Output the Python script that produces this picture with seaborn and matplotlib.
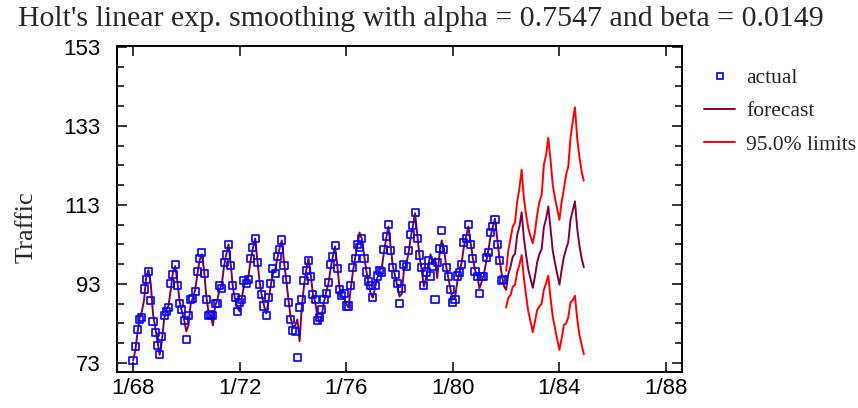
import numpy as np
import pandas as pd
import matplotlib
matplotlib.use("Agg")
import matplotlib.pyplot as plt
from matplotlib.lines import Line2D
import seaborn as sns

# monthly observations, 1/68 .. 12/81 (one row per year)
actual = [
    73.6, 77.1, 81.4, 84.1, 84.6, 91.7, 94.0, 96.1, 88.8, 83.4, 80.6, 77.5,
    75.2, 79.6, 85.0, 86.0, 87.0, 93.0, 95.3, 98.0, 92.5, 88.0, 86.5, 83.7,
    79.0, 85.0, 89.0, 89.3, 91.0, 96.1, 99.5, 101.0, 95.7, 89.0, 85.0, 85.3,
    85.0, 88.0, 88.0, 92.5, 91.9, 98.4, 100.3, 103.0, 97.6, 92.5, 89.5, 86.0,
    88.3, 89.1, 93.8, 93.0, 94.2, 99.5, 102.2, 104.6, 98.4, 92.9, 90.2, 87.4,
    84.9, 89.5, 93.0, 96.8, 95.7, 99.9, 101.8, 104.1, 97.6, 94.2, 88.3, 84.1,
    81.3, 81.0, 74.3, 87.1, 89.1, 93.8, 96.5, 99.0, 94.8, 90.2, 89.0, 83.8,
    84.5, 86.5, 89.0, 90.5, 93.3, 98.0, 99.9, 102.6, 96.8, 91.5, 90.0, 90.5,
    87.4, 87.4, 92.5, 97.1, 99.5, 103.0, 102.2, 104.5, 99.5, 96.0, 93.5, 92.5,
    89.5, 92.5, 95.0, 96.5, 96.0, 101.8, 105.0, 108.0, 101.4, 97.1, 95.3, 93.0,
    88.0, 91.9, 98.0, 97.5, 101.4, 105.4, 107.7, 111.0, 104.6, 100.3, 97.1, 92.5,
    96.0, 99.0, 95.0, 97.5, 89.1, 98.3, 102.0, 106.5, 101.8, 97.1, 94.8, 91.5,
    88.3, 89.0, 95.0, 95.8, 98.0, 103.5, 104.6, 108.1, 103.0, 99.5, 96.1, 94.8,
    90.6, 94.8, 94.8, 99.7, 101.0, 106.1, 107.5, 109.2, 103.0, 99.0, 93.9, 94.2,
]

# one-step-ahead fitted values over the same months
fitted = [
    73.6, 76.0, 80.5, 84.5, 86.0, 89.0, 95.0, 96.5, 93.0, 85.5, 82.0, 78.5,
    75.0, 78.5, 84.0, 86.5, 87.5, 91.5, 96.0, 97.5, 93.5, 88.5, 86.0, 84.0,
    81.0, 82.5, 88.0, 89.5, 91.5, 95.5, 99.0, 100.5, 96.5, 90.0, 86.0, 85.0,
    82.5, 87.5, 89.0, 91.5, 93.0, 97.5, 100.5, 103.0, 98.0, 92.0, 89.0, 87.0,
    86.0, 89.5, 92.5, 94.0, 95.0, 99.0, 102.0, 104.5, 99.0, 93.5, 90.0, 87.5,
    85.5, 88.5, 92.5, 95.5, 96.5, 99.5, 102.0, 104.0, 98.5, 94.0, 89.0, 84.5,
    82.0, 82.5, 84.0, 78.5, 87.0, 92.5, 96.5, 99.5, 95.5, 90.5, 88.5, 85.0,
    83.0, 85.0, 88.5, 91.0, 93.0, 97.0, 100.0, 102.5, 97.5, 92.0, 90.0, 89.5,
    88.0, 87.0, 91.5, 96.0, 99.5, 102.5, 106.0, 104.5, 100.5, 96.5, 93.5, 90.5,
    89.5, 92.0, 94.5, 96.5, 97.0, 101.0, 104.5, 107.5, 102.5, 97.5, 95.0, 92.5,
    89.8, 90.5, 96.5, 98.0, 100.5, 104.5, 107.5, 110.9, 105.5, 100.0, 96.5, 92.3,
    94.5, 98.0, 100.5, 98.0, 99.5, 94.5, 100.5, 104.0, 102.0, 97.5, 94.5, 91.5,
    89.0, 89.5, 93.5, 96.0, 98.5, 102.5, 105.0, 107.5, 103.5, 99.5, 96.5, 95.0,
    91.9, 93.5, 95.5, 98.5, 101.5, 105.0, 107.5, 109.5, 104.5, 99.5, 95.5, 92.5,
]

# forecasts 1/82 .. 12/84 and 95% limits
forecast = [
    91.5, 95.5, 97.4, 99.9, 100.6, 105.4, 107.5, 111.1, 104.6, 100.3, 96.6, 94.3,
    92.0, 94.9, 98.5, 100.6, 101.8, 107.3, 109.5, 112.6, 106.9, 101.4, 98.3, 95.5,
    92.8, 96.5, 99.8, 101.8, 103.6, 109.2, 111.5, 113.9, 107.1, 102.7, 99.5, 97.2,
]
upper = [
    96.3, 101.5, 104.5, 107.5, 108.5, 113.8, 117.2, 121.9, 114.7, 110.5, 107.1, 105.0,
    103.3, 106.2, 110.5, 113.8, 115.5, 123.1, 125.7, 130.0, 124.4, 118.1, 114.7, 112.0,
    109.2, 113.8, 117.0, 120.6, 122.7, 130.0, 134.1, 137.7, 129.9, 125.2, 121.4, 119.1,
]
lower = [
    87.0, 89.5, 90.2, 92.3, 92.7, 96.0, 97.8, 100.3, 94.5, 90.0, 86.0, 83.5,
    80.8, 83.5, 86.4, 87.3, 88.0, 91.5, 93.2, 95.1, 89.4, 84.7, 81.8, 79.0,
    76.3, 79.2, 82.6, 83.0, 84.5, 88.4, 88.8, 90.0, 84.3, 80.1, 77.6, 75.2,
]

tick_years = [1968, 1972, 1976, 1980, 1984, 1988]
tick_labels = ["1/68", "1/72", "1/76", "1/80", "1/84", "1/88"]
y_ticks = [73, 93, 113, 133, 153]

# decimal-year time axis
t_obs = 1968 + np.arange(len(actual)) / 12
t_fc = 1968 + (len(actual) + np.arange(len(forecast))) / 12

obs = pd.DataFrame({"date": t_obs, "Traffic": actual})
fit = pd.DataFrame({"date": np.concatenate([t_obs, t_fc]),
                    "Traffic": fitted + forecast})
lim = pd.DataFrame({"date": t_fc, "upper": upper, "lower": lower})

sns.set_style("ticks")
plt.rcParams["font.family"] = ["Liberation Serif", "DejaVu Serif"]

purple = "#800040"
red = "#FF0000"
blue = "#0000FF"

fig = plt.figure(figsize=(8.58, 4.08), dpi=100)
ax = fig.add_axes([117 / 858, 1 - 372 / 408, (682 - 117) / 858, (372 - 46) / 408])

sns.lineplot(data=fit, x="date", y="Traffic", color=purple, lw=1.4, ax=ax, zorder=2)
sns.lineplot(data=lim, x="date", y="upper", color=red, lw=1.4, ax=ax, zorder=2)
sns.lineplot(data=lim, x="date", y="lower", color=red, lw=1.4, ax=ax, zorder=2)
sns.scatterplot(data=obs, x="date", y="Traffic", marker="s", s=26,
                facecolor="none", edgecolor=blue, linewidth=1.2, ax=ax, zorder=3)

ax.set_xlim(1967.4, 1988.6)
ax.set_ylim(70.7, 153.2)
ax.set_xticks(tick_years)
ax.set_xticklabels(tick_labels)
ax.set_yticks(y_ticks)
ax.set_yticks(np.arange(73, 154, 5), minor=True)
ax.tick_params(which="both", direction="in", top=True, right=True,
               width=1.1, colors="black", labelsize=16)
ax.tick_params(which="major", length=7)
ax.tick_params(which="minor", length=5)
for lab in ax.get_xticklabels() + ax.get_yticklabels():
    lab.set_family("Liberation Sans")
ax.tick_params(axis="x", pad=4)
ax.tick_params(axis="y", pad=12)
for sp in ax.spines.values():
    sp.set_visible(True)
    sp.set_linewidth(1.4)
    sp.set_color("black")
ax.set_xlabel("")
ax.set_ylabel("")

fig.text(421 / 858, 1 - 19 / 408, "Holt's linear exp. smoothing with alpha = 0.7547 and beta = 0.0149",
         ha="center", va="center", fontsize=21.5)
fig.text(27 / 858, 1 - 227 / 408, "Traffic", rotation=90, ha="center", va="center", fontsize=19)

handles = [
    Line2D([], [], marker="s", ls="none", markerfacecolor="none",
           markeredgecolor=blue, markersize=5, markeredgewidth=1.2),
    Line2D([], [], color=purple, lw=1.4),
    Line2D([], [], color=red, lw=1.4),
]
fig.legend(handles, ["actual", "forecast", "95.0% limits"], loc="upper left",
           bbox_to_anchor=(704 / 858, 1 - 68 / 408), frameon=False, fontsize=15.5,
           borderpad=0, borderaxespad=0,
           handlelength=1.45, handletextpad=0.5, labelspacing=0.62)

fig.savefig("out.png", dpi=100)
